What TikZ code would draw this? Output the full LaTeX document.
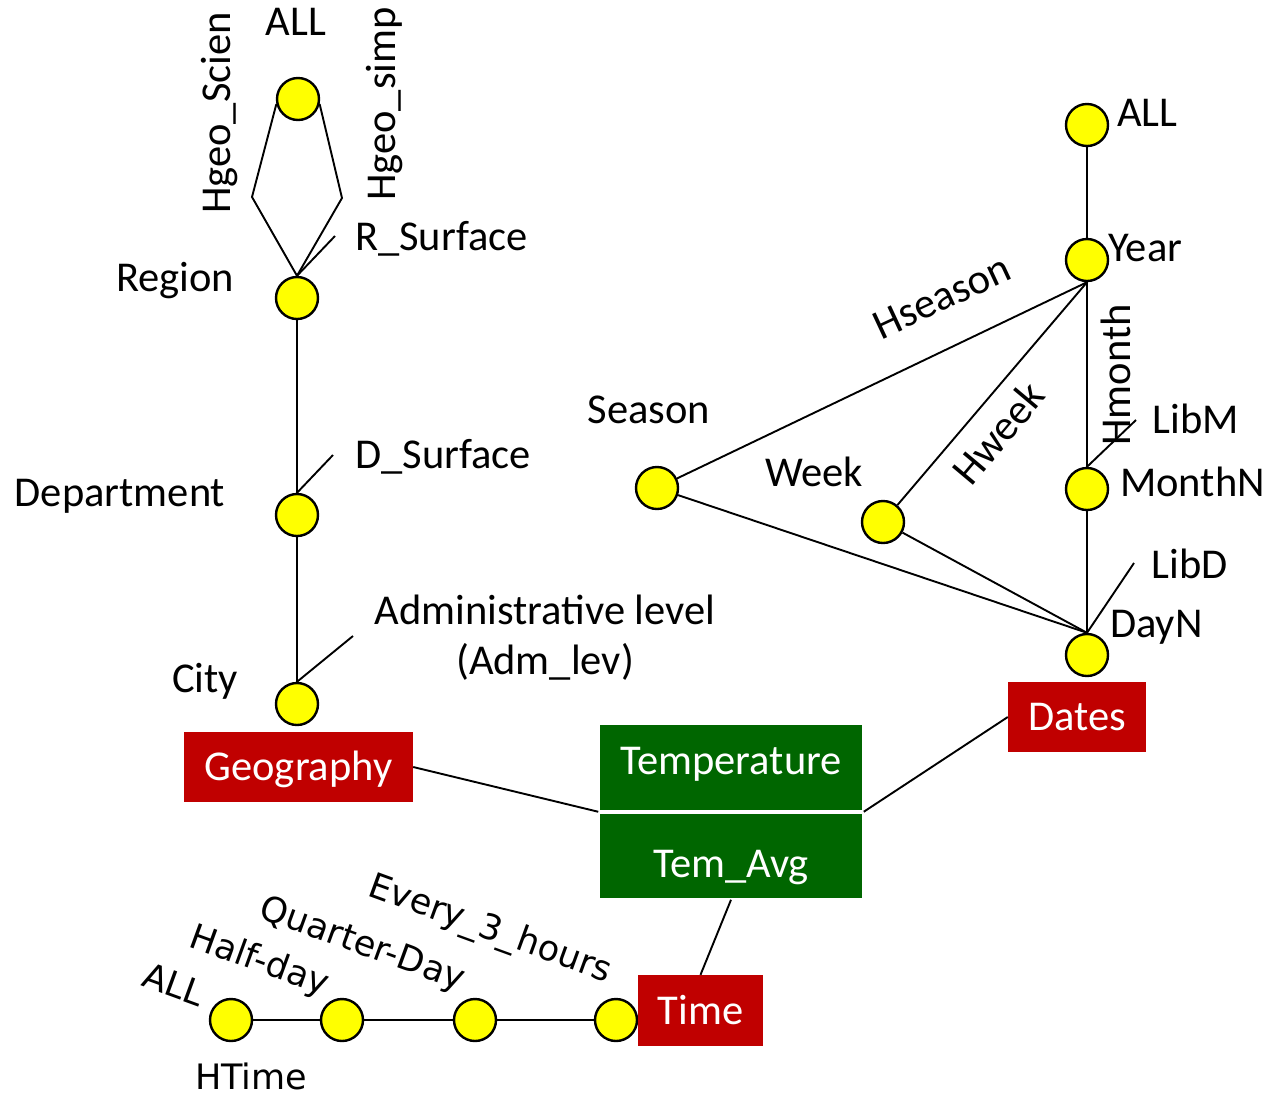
\documentclass[tikz,border=0pt]{standalone}
\usepackage{fontspec}
\setmainfont{Carlito}
\newfontfamily\timefont{DejaVu Sans}
\definecolor{dimred}{HTML}{C00000}
\definecolor{factgreen}{HTML}{006600}
\definecolor{lvlyellow}{HTML}{FFFF00}
\tikzset{
  lvl/.style={circle, draw=black, fill=lvlyellow, line width=2.4pt, minimum size=42pt, inner sep=0pt},
  lbl/.style={font=\fontsize{42.5}{50}\selectfont, inner sep=0pt},
  tlbl/.style={font=\timefont\fontsize{35}{42}\selectfont, inner sep=0pt},
  dimbox/.style={fill=dimred, text=white, font=\fontsize{42.5}{50}\selectfont,
    inner sep=0pt, text height=27pt, text depth=0pt},
  factbox/.style={fill=factgreen, draw=white, line width=1.5pt, text=white,
    font=\fontsize{42.5}{50}\selectfont, inner sep=0pt,
    minimum width=264pt},
  link/.style={line width=1.9pt},
  thick link/.style={line width=2.8pt},
}
\begin{document}
\begin{tikzpicture}[x=1pt,y=-1pt]
\useasboundingbox[fill=white] (0,0) rectangle (1265,1096);

% ---------- Geography dimension ----------
\node[lvl] (gall) at (298,99) {};
\node[lvl] (region) at (297,298) {};
\node[lvl] (dept) at (297,515) {};
\node[lvl] (city) at (297,704) {};
\coordinate (scienbend) at (252,197);
\coordinate (simpbend) at (342,198);
\coordinate (rsurf) at (335,236);
\coordinate (dsurf) at (333,455);
\coordinate (admlev) at (353,636);

\draw[link] (gall.193) -- (scienbend) -- (region.north);
\draw[link] (gall.-13) -- (simpbend) -- (region.north);
\draw[link] (region.north) -- (rsurf);
\draw[link] (region) -- (dept);
\draw[link] (dept.north) -- (dsurf);
\draw[link] (dept) -- (city);
\draw[link] (city.north) -- (admlev);

\node[lbl, anchor=base] (tgall) at (296,35) {ALL};
\node[lbl, rotate=90] (thsci) at (220,113) {Hgeo\_Scien};
\node[lbl, rotate=90] (thsimp) at (385,104) {Hgeo\_simp};
\node[lbl, anchor=base west] (trsurf) at (355,250) {R\_Surface};
\node[lbl, anchor=base] (tregion) at (175,291) {Region};
\node[lbl, anchor=base west] (tdsurf) at (355,468) {D\_Surface};
\node[lbl, anchor=base] (tdept) at (120,506) {Department};
\node[lbl, anchor=base] (tadm1) at (545,624) {Administrative level};
\node[lbl, anchor=base] (tadm2) at (545,674) {(Adm\_lev)};
\node[lbl, anchor=base] (tcity) at (205,692) {City};

\node[dimbox, minimum width=229pt, minimum height=70pt] (geo) at (298.5,767) {Geography};

% ---------- Fact ----------
\node[factbox, minimum height=87pt, text height=27pt, text depth=14pt] (temp) at (731,767.5) {Temperature};
\node[factbox, minimum height=86pt, text height=43pt, text depth=0pt] (avg) at (731,856) {Tem\_Avg};

% ---------- Dates dimension ----------
\node[lvl] (dall) at (1087,125) {};
\node[lvl] (year) at (1087,260) {};
\node[lvl] (season) at (657,488) {};
\node[lvl] (week) at (883,522) {};
\node[lvl] (monthn) at (1087,489) {};
\node[lvl] (dayn) at (1087,655) {};
\coordinate (libm) at (1136,420);
\coordinate (libd) at (1134,563);

\draw[thick link] (dall) -- (year);
\draw[link] (year.south) -- (season);
\draw[link] (year.south) -- (week);
\draw[thick link] (year.south) -- (monthn.north);
\draw[thick link] (monthn) -- (dayn);
\draw[link] (monthn.north) -- (libm);
\draw[link] (dayn.north) -- (libd);
\draw[link] (season) -- (dayn.north);
\draw[link] (week) -- (dayn.north);

\node[lbl, anchor=base west] (tdall) at (1117,126) {ALL};
\node[lbl, anchor=base west] (tyear) at (1108,261) {Year};
\node[lbl, rotate=25] (thseason) at (942,297) {Hseason};
\node[lbl, rotate=50] (thweek) at (998,433) {Hweek};
\node[lbl, rotate=90] (thmonth) at (1116,375) {Hmonth};
\node[lbl, anchor=base] (tseason) at (649,423) {Season};
\node[lbl, anchor=base] (tweek) at (814,486) {Week};
\node[lbl, anchor=base] (tlibm) at (1196,433) {LibM};
\node[lbl, anchor=base west] (tmonthn) at (1120,496) {MonthN};
\node[lbl, anchor=base] (tlibd) at (1190,578) {LibD};
\node[lbl, anchor=base west] (tdayn) at (1110,637) {DayN};

\node[dimbox, minimum width=138pt, minimum height=70pt] (dates) at (1077,717) {Dates};

% ---------- Time dimension ----------
\node[lvl] (tall) at (231,1020) {};
\node[lvl] (half) at (342,1020) {};
\node[lvl] (quarter) at (475,1020) {};
\node[lvl] (every) at (616,1020) {};
\draw[thick link] (tall) -- (half) -- (quarter) -- (every);

\node[tlbl, rotate=-20] (ttall) at (174,984) {ALL};
\node[tlbl, rotate=-20] (thalf) at (259,962) {Half-day};
\node[tlbl, rotate=-20] (tquarter) at (362,945) {Quarter-Day};
\node[tlbl, rotate=-20] (tevery) at (490,930) {Every\_3\_hours};
\node[tlbl, anchor=base] (thtime) at (251,1089) {HTime};

\node[dimbox, minimum width=125pt, minimum height=71pt] (time) at (700.5,1010.5) {Time};

% ---------- Fact to dimension links ----------
\draw[link] (geo.east) -- (temp.south west);
\draw[link] (temp.south east) -- (dates.west);
\draw[link] (avg.south) -- (time.north);
\end{tikzpicture}
\end{document}
